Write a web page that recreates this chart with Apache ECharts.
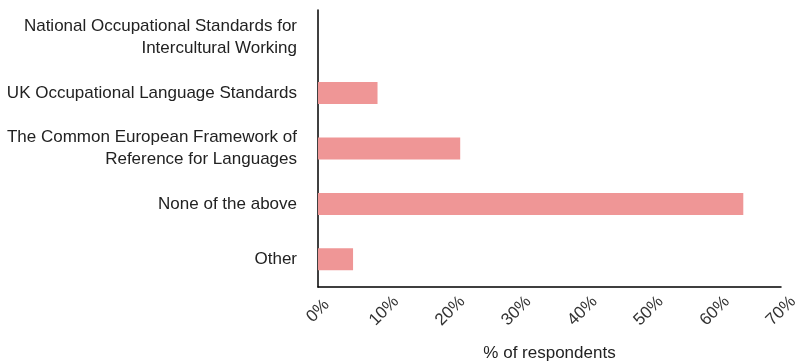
<!DOCTYPE html>
<html>
<head>
<meta charset="utf-8">
<script src="https://cdn.jsdelivr.net/npm/echarts@6/dist/echarts.min.js"></script>
<style>
  html, body { margin: 0; padding: 0; background: #fff; }
  #chart { width: 797px; height: 363px; }
</style>
</head>
<body>
<div id="chart"></div>
<script>
// Survey answers, listed top to bottom
const categories = [
  'National Occupational Standards for\nIntercultural Working',
  'UK Occupational Language Standards',
  'The Common European Framework of\nReference for Languages',
  'None of the above',
  'Other'
];
// Share of respondents (%)
const respondentShare = [0, 9.0, 21.5, 64.3, 5.3];
// Value axis range (%)
const axisMin = 0;
const axisMax = 70;
const axisStep = 10;
const axisTitle = '% of respondents';

const chart = echarts.init(document.getElementById('chart'), null, { renderer: 'canvas' });
const font = '"Liberation Sans", Arial, sans-serif';

chart.setOption({
  animation: false,
  grid: { left: 318, right: 16, top: 10, bottom: 76, containLabel: false, outerBoundsMode: 'none' },
  xAxis: {
    type: 'value',
    min: axisMin,
    max: axisMax,
    interval: axisStep,
    name: axisTitle,
    nameLocation: 'middle',
    nameGap: 58,
    nameTextStyle: { color: '#222', fontSize: 17, fontFamily: font },
    axisLine: { show: true, lineStyle: { color: '#000', width: 1.5 } },
    axisTick: { show: false },
    splitLine: { show: false },
    axisLabel: {
      rotate: 45,
      align: 'center',
      verticalAlign: 'middle',
      margin: 24,
      color: '#333',
      fontSize: 17,
      fontFamily: font,
      formatter: v => v + '%'
    }
  },
  yAxis: {
    type: 'category',
    data: categories,
    inverse: true,
    axisLine: { show: true, lineStyle: { color: '#000', width: 1.5 } },
    axisTick: { show: false },
    axisLabel: {
      margin: 21,
      align: 'right',
      color: '#222',
      fontSize: 17,
      lineHeight: 22,
      fontFamily: font
    }
  },
  series: [{
    type: 'bar',
    data: respondentShare,
    barWidth: 22,
    itemStyle: { color: '#ef9696' }
  }]
});
</script>
</body>
</html>
